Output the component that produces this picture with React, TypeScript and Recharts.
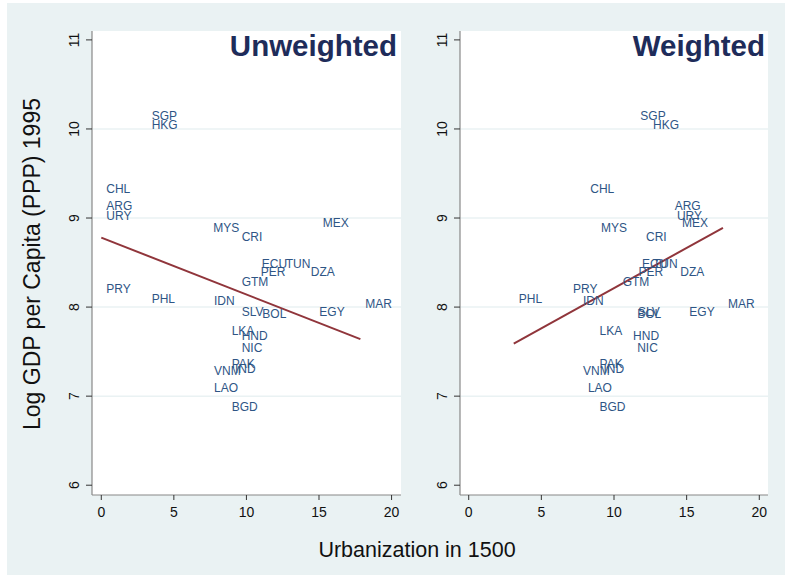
import { CartesianGrid, Scatter, ScatterChart, XAxis, YAxis } from "recharts";

const codes = [
  "SGP", "HKG", "CHL", "ARG", "URY", "MYS", "CRI", "MEX", "ECU", "TUN", "PER", "DZA", "GTM", "PRY",
  "PHL", "IDN", "MAR", "SLV", "BOL", "EGY", "LKA", "HND", "NIC", "PAK", "IND", "VNM", "LAO", "BGD",
];
const logGdp = [
  10.15, 10.04, 9.33, 9.13, 9.02, 8.89, 8.79, 8.94, 8.48, 8.48, 8.39, 8.39, 8.28, 8.2,
  8.09, 8.07, 8.04, 7.94, 7.92, 7.95, 7.73, 7.68, 7.54, 7.36, 7.31, 7.28, 7.09, 6.88,
];
const urbUnweighted = [
  3.13, 3.13, 0, 0, 0, 7.37, 9.33, 14.91, 10.71, 12.36, 10.64, 14.09, 9.33, 0,
  3.13, 7.42, 17.85, 9.33, 10.75, 14.68, 8.64, 9.33, 9.33, 8.64, 8.87, 7.42, 7.42, 8.64,
];
const urbWeighted = [
  11.47, 12.34, 8.02, 13.83, 13.99, 8.76, 11.86, 14.34, 11.59, 12.34, 11.35, 14.22, 10.25, 6.83,
  3.1, 7.52, 17.5, 11.3, 11.25, 14.84, 8.66, 10.97, 11.25, 8.66, 8.93, 7.52, 7.86, 8.66,
];

// fitted lines (endpoints at min / max urbanization)
const fitUnweightedX = [0, 17.85];
const fitUnweightedY = [8.78, 7.64];
const fitWeightedX = [3.1, 17.5];
const fitWeightedY = [7.59, 8.89];

const xTicks = [0, 5, 10, 15, 20];
const yTicks = [6, 7, 8, 9, 10, 11];
const gridValues = [7, 8, 9, 10];

const FONT = "Arial, 'Liberation Sans', sans-serif";
const BG = "#eaf2f3";
const LABEL = "#2e5585";
const FIT = "#90353b";
const TITLE = "#1e2c5a";

const toPoints = (xs: number[], ys: number[]) =>
  xs.map((x, i) => ({ x, y: ys[i], code: codes[i] }));

const YTick = (props: any) => {
  const { x, y, payload } = props;
  const cx = x - 10;
  return (
    <text
      x={cx}
      y={y}
      transform={`rotate(-90 ${cx} ${y})`}
      textAnchor="middle"
      dominantBaseline="central"
      fontSize={14}
      fill="#111"
      fontFamily={FONT}
    >
      {payload.value}
    </text>
  );
};

const CodeLabel = (props: any) => {
  const { cx, cy, payload } = props;
  return (
    <text x={cx + 5} y={cy} dominantBaseline="central" fontSize={12} fill={LABEL} fontFamily={FONT}>
      {payload.code}
    </text>
  );
};

interface PanelProps {
  left: number;
  width: number;
  marginLeft: number;
  marginRight: number;
  xDomain: [number, number];
  points: { x: number; y: number; code: string }[];
  fit: { x: number; y: number }[];
}

const Panel = ({ left, width, marginLeft, marginRight, xDomain, points, fit }: PanelProps) => (
  <div style={{ position: "absolute", left, top: 0 }}>
    <ScatterChart
      width={width}
      height={575}
      margin={{ top: 31, right: marginRight, bottom: 50, left: marginLeft }}
    >
      <CartesianGrid vertical={false} horizontalValues={gridValues} stroke={BG} strokeWidth={1.5} fill="#ffffff" />
      <XAxis
        type="number"
        dataKey="x"
        domain={xDomain}
        ticks={xTicks}
        allowDataOverflow
        tickSize={5}
        tickMargin={7}
        axisLine={{ stroke: "#888", strokeWidth: 1.2 }}
        tickLine={{ stroke: "#333" }}
        tick={{ fill: "#111", fontSize: 14, fontFamily: FONT }}
      />
      <YAxis
        type="number"
        dataKey="y"
        domain={[5.89, 11.1]}
        ticks={yTicks}
        allowDataOverflow
        width={60}
        tickSize={6}
        tickMargin={2}
        axisLine={{ stroke: "#888", strokeWidth: 1.2 }}
        tickLine={{ stroke: "#333" }}
        tick={YTick}
      />
      <Scatter data={fit} line={{ stroke: FIT, strokeWidth: 2 }} shape={() => <g />} isAnimationActive={false} />
      <Scatter data={points} shape={CodeLabel} isAnimationActive={false} />
    </ScatterChart>
  </div>
);

export default function App() {
  const unweighted = toPoints(urbUnweighted, logGdp);
  const weighted = toPoints(urbWeighted, logGdp);
  const fitU = fitUnweightedX.map((x, i) => ({ x, y: fitUnweightedY[i] }));
  const fitW = fitWeightedX.map((x, i) => ({ x, y: fitWeightedY[i] }));

  return (
    <div style={{ position: "absolute", left: 0, top: 0, width: 785, height: 575, background: "#fff", overflow: "hidden" }}>
      <div style={{ position: "absolute", left: 7, top: 3, width: 778, height: 572, background: BG }} />
      <Panel left={0} width={410} marginLeft={32} marginRight={9} xDomain={[-0.64, 20.65]} points={unweighted} fit={fitU} />
      <Panel left={400} width={380} marginLeft={0} marginRight={12} xDomain={[-0.6, 20.6]} points={weighted} fit={fitW} />
      <svg width={785} height={575} style={{ position: "absolute", left: 0, top: 0, pointerEvents: "none" }}>
        <text x={397} y={56} textAnchor="end" fontSize={29.5} fontWeight="bold" fill={TITLE} fontFamily={FONT}>
          Unweighted
        </text>
        <text x={765} y={56} textAnchor="end" fontSize={29.5} fontWeight="bold" fill={TITLE} fontFamily={FONT}>
          Weighted
        </text>
        <text
          x={32}
          y={264}
          transform="rotate(-90 32 264)"
          textAnchor="middle"
          dominantBaseline="central"
          fontSize={23}
          fill="#111"
          fontFamily={FONT}
        >
          Log GDP per Capita (PPP) 1995
        </text>
        <text x={417} y={550} textAnchor="middle" dominantBaseline="central" fontSize={21.5} fill="#111" fontFamily={FONT}>
          Urbanization in 1500
        </text>
      </svg>
    </div>
  );
}
